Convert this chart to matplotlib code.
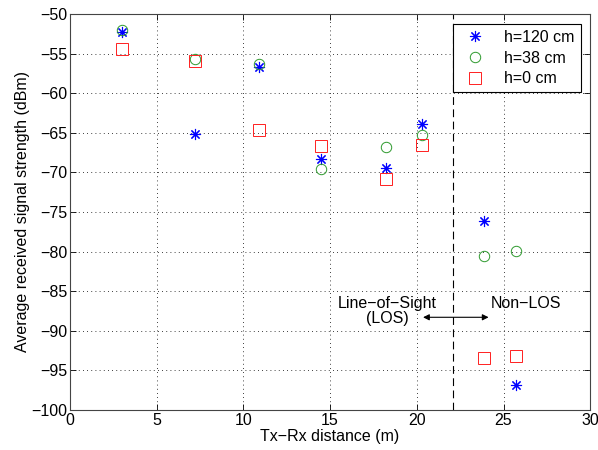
import matplotlib
matplotlib.use("Agg")
import matplotlib.pyplot as plt

plt.rcParams["font.family"] = ["Liberation Sans", "DejaVu Sans"]

# distances (m)
distance = [3.0, 7.2, 10.9, 14.5, 18.2, 20.3, 23.9, 25.7]

# average received signal strength (dBm) per antenna height
rss_h120 = [-52.3, -65.1, -56.7, -68.3, -69.4, -63.9, -76.1, -96.9]
rss_h38 = [-52.0, -55.7, -56.3, -69.6, -66.8, -65.3, -80.5, -79.9]
rss_h0 = [-54.4, -55.9, -64.6, -66.7, -70.8, -66.5, -93.4, -93.2]

los_boundary = 22.1
FS = 11.5

fig = plt.figure(figsize=(5.98, 4.5), dpi=100)
ax = fig.add_axes([0.117, 0.089, 0.870, 0.880])

ax.plot(distance, rss_h120, linestyle="none", marker=(8, 2, 0), markersize=8,
        markeredgewidth=0.8, color="blue", markeredgecolor="blue", label="h=120 cm")
ax.plot(distance, rss_h38, linestyle="none", marker="o", markersize=7.5,
        markeredgewidth=0.7, markerfacecolor="none", markeredgecolor="#2e9a2e",
        label="h=38 cm")
ax.plot(distance, rss_h0, linestyle="none", marker="s", markersize=8,
        markeredgewidth=0.7, markerfacecolor="none", markeredgecolor="#ff2020",
        label="h=0 cm")

ax.axvline(los_boundary, color="black", linestyle=(0, (7, 4)), linewidth=0.8)

ax.annotate("", xy=(20.2, -88.3), xytext=(24.3, -88.3),
            arrowprops=dict(arrowstyle="<|-|>", color="black", lw=0.8,
                            mutation_scale=9))
ax.text(18.3, -87.5, "Line\u2212of\u2212Sight\n(LOS)", ha="center", va="center",
        fontsize=FS, linespacing=1.05)
ax.text(26.3, -86.6, "Non\u2212LOS", ha="center", va="center", fontsize=FS)

ax.set_xlim(0, 30)
ax.set_ylim(-100, -50)
ax.set_xticks(range(0, 31, 5))
ax.set_yticks(range(-100, -49, 5))
ax.set_yticklabels([f"\u2212{abs(v)}" if v < 0 else str(v) for v in range(-100, -49, 5)])
ax.tick_params(direction="in", top=True, right=True, labelsize=FS, length=4,
               width=0.6, pad=2)
ax.grid(True, color="black", linestyle=(0, (1, 4)), linewidth=0.6)
for s in ax.spines.values():
    s.set_linewidth(0.8)
    s.set_color("#444444")

ax.set_xlabel("Tx\u2212Rx distance (m)", fontsize=FS, labelpad=1)
ax.set_ylabel("Average received signal strength (dBm)", fontsize=FS, labelpad=1)

leg = ax.legend(loc="upper right", fontsize=FS, fancybox=False, framealpha=1,
                edgecolor="black", borderaxespad=0.6, handletextpad=0.8,
                labelspacing=0.35)
leg.get_frame().set_linewidth(0.8)

fig.savefig("out.png", dpi=100)
